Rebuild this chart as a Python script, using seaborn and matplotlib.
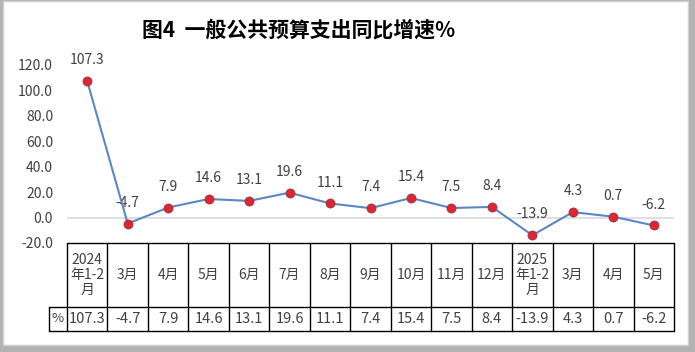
import matplotlib
matplotlib.use("Agg")
import matplotlib.pyplot as plt
import matplotlib.transforms as mtransforms
from matplotlib.patches import Rectangle
import pandas as pd
import seaborn as sns

# data
periods = ["2024\n年1-2\n月", "3月", "4月", "5月", "6月", "7月", "8月", "9月",
           "10月", "11月", "12月", "2025\n年1-2\n月", "3月", "4月", "5月"]
growth = [107.3, -4.7, 7.9, 14.6, 13.1, 19.6, 11.1, 7.4, 15.4, 7.5, 8.4, -13.9, 4.3, 0.7, -6.2]
y_ticks = [-20, 0, 20, 40, 60, 80, 100, 120]

title = "图4  一般公共预算支出同比增速%"

sns.set_style("white")
plt.rcParams['font.family'] = ['Noto Sans CJK SC', 'DejaVu Sans']
txt_color = "#404040"

df = pd.DataFrame({"idx": range(len(periods)), "val": growth})

fig = plt.figure(figsize=(6.95, 3.52), dpi=100)
W, H = 695, 352
ax = fig.add_axes([67 / W, 1 - 243 / H, (674 - 67) / W, (243 - 65) / H])

sns.lineplot(data=df, x="idx", y="val", ax=ax, color="#5a87c8", linewidth=1.5,
             marker="o", markersize=6.5, markerfacecolor="#e0252f",
             markeredgecolor="#8a3a50", markeredgewidth=0.6, zorder=5)

ax.set_xlim(-0.5, len(periods) - 0.5)
ax.set_ylim(-20, 120)
ax.set_yticks(y_ticks)
ax.set_yticklabels([f"{v:.1f}" for v in y_ticks], fontsize=10, color=txt_color)
ax.set_xticks([])
ax.set_xlabel("")
ax.set_ylabel("")
ax.tick_params(axis="y", length=0, pad=10)
for s in ax.spines.values():
    s.set_visible(False)
ax.axhline(0, color="#d9d9d9", linewidth=1.2, zorder=1)

# point labels
for i, v in enumerate(growth):
    ax.annotate(f"{v:.1f}", (i, v), xytext=(0, 10), textcoords="offset points",
                ha="center", va="bottom", fontsize=10, color=txt_color,
                annotation_clip=False)

# data table under the plot
trans = mtransforms.blended_transform_factory(ax.transData, ax.transAxes)
n = len(periods)
y_top = 0.0
y_mid = -64 / 178
y_bot = -88 / 178
x_lab = -0.5 - 18 / 40.47
lkw = dict(color="black", linewidth=1, transform=trans, clip_on=False)
ax.plot([-0.5, n - 0.5], [y_top, y_top], **lkw)
ax.plot([x_lab, n - 0.5], [y_mid, y_mid], **lkw)
ax.plot([x_lab, n - 0.5], [y_bot, y_bot], **lkw)
for k in range(n + 1):
    ax.plot([k - 0.5, k - 0.5], [y_top, y_bot], **lkw)
ax.plot([x_lab, x_lab], [y_mid, y_bot], **lkw)

for i, (p, v) in enumerate(zip(periods, growth)):
    ax.text(i, (y_top + y_mid) / 2, p, transform=trans, ha="center", va="center",
            fontsize=10, color=txt_color, linespacing=1.1)
    ax.text(i, (y_mid + y_bot) / 2, f"{v:.1f}", transform=trans, ha="center",
            va="center", fontsize=10.5, color=txt_color)
ax.text((x_lab - 0.5) / 2, (y_mid + y_bot) / 2, "%", transform=trans, ha="center",
        va="center", fontsize=9.5, color=txt_color)

fig.text(299 / W, 1 - 30 / H, title, ha="center", va="center", fontsize=15,
         fontweight="bold", color="black")

# frame with shadow
fig.patches.append(Rectangle((0, 0), 1, 1, transform=fig.transFigure,
                             facecolor="#b3b3b3", edgecolor="none", zorder=-3))
fig.patches.append(Rectangle((3 / W, 7 / H), (W - 10) / W, (H - 8) / H,
                             transform=fig.transFigure, facecolor="white",
                             edgecolor="#d0d0d0", linewidth=1.0, zorder=-1))

fig.savefig("out.png", dpi=100)
